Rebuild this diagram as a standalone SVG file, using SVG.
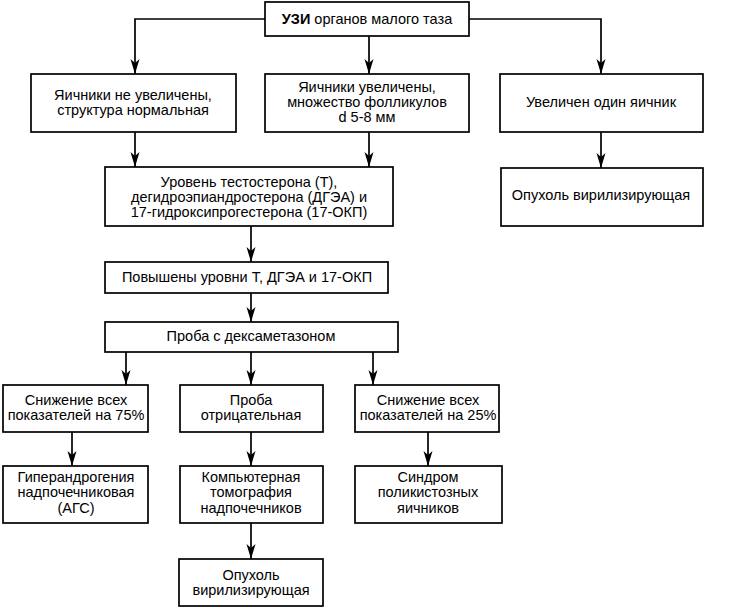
<svg xmlns="http://www.w3.org/2000/svg" width="736" height="608" viewBox="0 0 736 608">
<style>
.box{fill:#fff;stroke:#000;stroke-width:1.7}
.t{font-family:"Liberation Sans",Arial,sans-serif;font-size:14.5px;fill:#000;text-anchor:middle}
.b{font-weight:bold}
.c{fill:none;stroke:#000;stroke-width:1.7;marker-end:url(#ah)}
</style>
<defs>
<marker id="ah" markerUnits="userSpaceOnUse" markerWidth="20" markerHeight="12" viewBox="-16 -6 20 12" refX="0" refY="0" orient="auto">
<path d="M0,0 L-15,-4.5 L-11,0 L-15,4.5 Z" fill="#000"/>
</marker>
</defs>
<rect width="736" height="608" fill="#fff"/>
<g id="connectors">
<path class="c" d="M265,19 H135 V74"/>
<path class="c" d="M469,19 H601 V74"/>
<path class="c" d="M369,36 V74"/>
<path class="c" d="M135,132 V167"/>
<path class="c" d="M369,132 V167"/>
<path class="c" d="M601,132 V168"/>
<path class="c" d="M251,226 V262"/>
<path class="c" d="M251,293 V322"/>
<path class="c" d="M126,352 V385"/>
<path class="c" d="M251,352 V385"/>
<path class="c" d="M373,352 V385"/>
<path class="c" d="M72,432 V466"/>
<path class="c" d="M251,432 V466"/>
<path class="c" d="M428,432 V466"/>
<path class="c" d="M251,523 V559"/>
</g>
<g id="n1"><rect class="box" x="265" y="2" width="204" height="34"/>
<text class="t" x="367" y="24"><tspan class="b">УЗИ</tspan> органов малого таза</text></g>
<g id="n2"><rect class="box" x="31" y="74" width="205" height="58"/>
<text class="t" x="133" y="100">Яичники не увеличены,</text>
<text class="t" x="133" y="115">структура нормальная</text></g>
<g id="n3"><rect class="box" x="265" y="74" width="204" height="58"/>
<text class="t" x="367" y="92">Яичники увеличены,</text>
<text class="t" x="367" y="107">множество фолликулов</text>
<text class="t" x="367" y="122">d 5-8 мм</text></g>
<g id="n4"><rect class="box" x="500" y="74" width="203" height="58"/>
<text class="t" x="601" y="107">Увеличен один яичник</text></g>
<g id="n5"><rect class="box" x="105" y="167" width="288" height="59"/>
<text class="t" x="249" y="187">Уровень тестостерона (Т),</text>
<text class="t" x="249" y="202">дегидроэпиандростерона (ДГЭА) и</text>
<text class="t" x="249" y="217">17-гидроксипрогестерона (17-ОКП)</text></g>
<g id="n6"><rect class="box" x="501" y="168" width="202" height="58"/>
<text class="t" x="601" y="200">Опухоль вирилизирующая</text></g>
<g id="n7"><rect class="box" x="105" y="262" width="283" height="31"/>
<text class="t" x="247" y="282">Повышены уровни Т, ДГЭА и 17-ОКП</text></g>
<g id="n8"><rect class="box" x="105" y="322" width="293" height="30"/>
<text class="t" x="251" y="341">Проба с дексаметазоном</text></g>
<g id="n9"><rect class="box" x="3" y="385" width="145" height="47"/>
<text class="t" x="76" y="405">Снижение всех</text>
<text class="t" x="76" y="420">показателей на 75%</text></g>
<g id="n10"><rect class="box" x="180" y="385" width="143" height="47"/>
<text class="t" x="251" y="405">Проба</text>
<text class="t" x="251" y="420">отрицательная</text></g>
<g id="n11"><rect class="box" x="355" y="385" width="144" height="47"/>
<text class="t" x="428" y="405">Снижение всех</text>
<text class="t" x="428" y="420">показателей на 25%</text></g>
<g id="n12"><rect class="box" x="3" y="466" width="145" height="57"/>
<text class="t" x="76" y="482">Гиперандрогения</text>
<text class="t" x="76" y="497">надпочечниковая</text>
<text class="t" x="76" y="513">(АГС)</text></g>
<g id="n13"><rect class="box" x="180" y="466" width="143" height="57"/>
<text class="t" x="251" y="482">Компьютерная</text>
<text class="t" x="251" y="497">томография</text>
<text class="t" x="251" y="513">надпочечников</text></g>
<g id="n14"><rect class="box" x="355" y="466" width="147" height="57"/>
<text class="t" x="428" y="482">Синдром</text>
<text class="t" x="428" y="497">поликистозных</text>
<text class="t" x="428" y="513">яичников</text></g>
<g id="n15"><rect class="box" x="179" y="559" width="144" height="47"/>
<text class="t" x="251" y="580">Опухоль</text>
<text class="t" x="251" y="595">вирилизирующая</text></g>
</svg>
